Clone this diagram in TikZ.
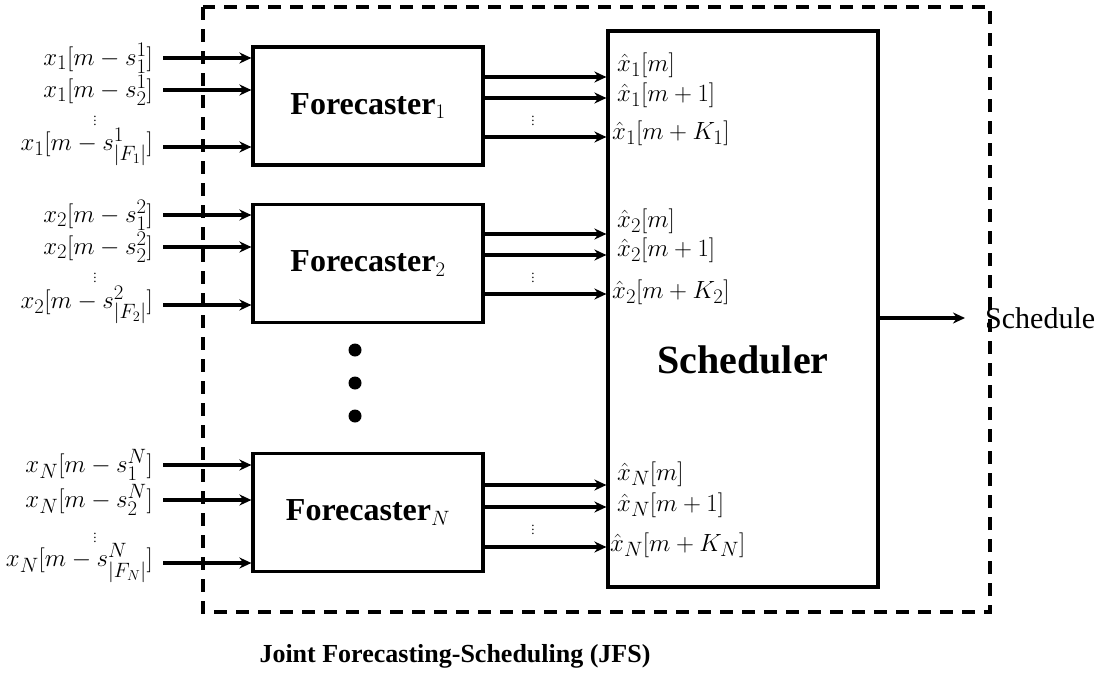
\documentclass[tikz,border=0pt]{standalone}
\usepackage{amsmath}
\usepackage{fontspec}
\setmainfont{Liberation Serif}
\usetikzlibrary{arrows.meta}
\tikzset{
  arr/.style={line width=3.2pt,-{Stealth[length=12pt,width=11pt]}},
  fbox/.style={draw,line width=3.2pt,minimum width=230pt,minimum height=118pt,inner sep=0pt,font=\fontsize{32}{36}\selectfont\bfseries},
  inlab/.style={anchor=east,inner sep=0pt,font=\fontsize{28.5}{32}\selectfont},
  outlab/.style={anchor=west,inner sep=0pt,font=\fontsize{28}{32}\selectfont},
  vd/.style={inner sep=0pt,font=\fontsize{13}{15}\selectfont},
  bigdot/.style={fill,circle,minimum size=13pt,inner sep=0pt}
}
\begin{document}
\begin{tikzpicture}[x=1pt,y=-1pt]
\useasboundingbox (0,0) rectangle (1106,680);
% dashed frame
\draw[line width=3.2pt,dash pattern=on 13pt off 9pt] (203,7) rectangle (990,612);
% scheduler
\node[draw,line width=3.2pt,minimum width=270pt,minimum height=556pt,inner sep=0pt] (S) at (743,309) {};
\node[font=\fontsize{40}{45}\selectfont\bfseries] (St) at (743,360) {Scheduler};
% forecasters
\node[fbox] (F1) at (368,106) {Forecaster$_{1}$};
\node[fbox] (F2) at (368,263.5) {Forecaster$_{2}$};
\node[fbox] (FN) at (368,512.5) {Forecaster$_{N}$};
% big dots
\node[bigdot] (d1) at (355,350) {};
\node[bigdot] (d2) at (355,383) {};
\node[bigdot] (d3) at (355,416) {};
% inputs 1
\node[inlab] (a1) at (153,58) {$x_1[m-s_1^1]$};
\node[inlab] (a2) at (153,90) {$x_1[m-s_2^1]$};
\node[vd] (a3) at (95,118) {$\vdots$};
\node[inlab] (a4) at (153,147) {$x_1[m-s_{|F_1|}^1]$};
\draw[arr] ([xshift=10pt]a1.east) -- (a1.east -| F1.west);
\draw[arr] ([xshift=10pt]a2.east) -- (a2.east -| F1.west);
\draw[arr] ([xshift=10pt]a4.east) -- (a4.east -| F1.west);
% inputs 2
\node[inlab] (b1) at (153,215) {$x_2[m-s_1^2]$};
\node[inlab] (b2) at (153,247) {$x_2[m-s_2^2]$};
\node[vd] (b3) at (95,275) {$\vdots$};
\node[inlab] (b4) at (153,305) {$x_2[m-s_{|F_2|}^2]$};
\draw[arr] ([xshift=10pt]b1.east) -- (b1.east -| F2.west);
\draw[arr] ([xshift=10pt]b2.east) -- (b2.east -| F2.west);
\draw[arr] ([xshift=10pt]b4.east) -- (b4.east -| F2.west);
% inputs N
\node[inlab] (c1) at (153,465) {$x_N[m-s_1^N]$};
\node[inlab] (c2) at (153,500) {$x_N[m-s_2^N]$};
\node[vd] (c3) at (95,535) {$\vdots$};
\node[inlab] (c4) at (153,563) {$x_N[m-s_{|F_N|}^N]$};
\draw[arr] ([xshift=10pt]c1.east) -- (c1.east -| FN.west);
\draw[arr] ([xshift=10pt]c2.east) -- (c2.east -| FN.west);
\draw[arr] ([xshift=10pt]c4.east) -- (c4.east -| FN.west);
% outputs 1
\coordinate (p1) at (483,77); \coordinate (p2) at (483,98); \coordinate (p3) at (483,137);
\draw[arr] (p1 -| F1.east) -- (p1 -| S.west);
\draw[arr] (p2 -| F1.east) -- (p2 -| S.west);
\draw[arr] (p3 -| F1.east) -- (p3 -| S.west);
\node[vd] (pv) at (533,118) {$\vdots$};
\node[outlab] (o11) at (617,65) {$\hat{x}_1[m]$};
\node[outlab] (o12) at (617,95) {$\hat{x}_1[m+1]$};
\node[outlab] (o13) at (612,133) {$\hat{x}_1[m+K_1]$};
% outputs 2
\coordinate (q1) at (483,234); \coordinate (q2) at (483,255); \coordinate (q3) at (483,294);
\draw[arr] (q1 -| F2.east) -- (q1 -| S.west);
\draw[arr] (q2 -| F2.east) -- (q2 -| S.west);
\draw[arr] (q3 -| F2.east) -- (q3 -| S.west);
\node[vd] (qv) at (533,275) {$\vdots$};
\node[outlab] (o21) at (617,221) {$\hat{x}_2[m]$};
\node[outlab] (o22) at (617,250) {$\hat{x}_2[m+1]$};
\node[outlab] (o23) at (612,292) {$\hat{x}_2[m+K_2]$};
% outputs N
\coordinate (r1) at (483,485); \coordinate (r2) at (483,507); \coordinate (r3) at (483,547);
\draw[arr] (r1 -| FN.east) -- (r1 -| S.west);
\draw[arr] (r2 -| FN.east) -- (r2 -| S.west);
\draw[arr] (r3 -| FN.east) -- (r3 -| S.west);
\node[vd] (rv) at (533,527) {$\vdots$};
\node[outlab] (oN1) at (617,474) {$\hat{x}_N[m]$};
\node[outlab] (oN2) at (617,505) {$\hat{x}_N[m+1]$};
\node[outlab] (oN3) at (610,545) {$\hat{x}_N[m+K_N]$};
% schedule output
\node[anchor=west,inner sep=0pt,font=\fontsize{30}{34}\selectfont] (sch) at (985,318) {Schedule};
\draw[arr] (S.east |- sch.west) -- ([xshift=-20pt]sch.west);
% title
\node[font=\fontsize{26}{30}\selectfont\bfseries] (title) at (455,656) {Joint Forecasting-Scheduling (JFS)};
\end{tikzpicture}
\end{document}
